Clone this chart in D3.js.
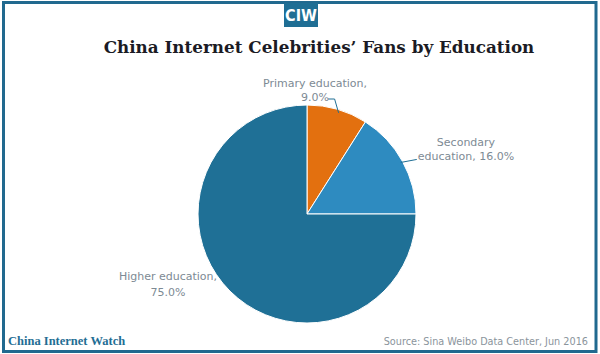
<!DOCTYPE html>
<html>
<head>
<meta charset="utf-8">
<script src="https://cdn.jsdelivr.net/npm/d3@7"></script>
<style>
  html, body { margin: 0; padding: 0; background: #fff; }
  svg { display: block; }
</style>
</head>
<body>
<svg id="chart" width="600" height="354"></svg>
<script>
const categories = ["Primary education", "Secondary education", "Higher education"];
const shares = [9.0, 16.0, 75.0];
const sliceColors = ["#e3700f", "#2e8bc0", "#1f7096"];

const svg = d3.select("#chart"),
  width = 600,
  height = 354,
  cx = 307,
  cy = 214,
  radius = 109;

// frame
svg.append("rect")
  .attr("x", 3.5).attr("y", 2.5)
  .attr("width", width - 7.5).attr("height", height - 5)
  .attr("fill", "none")
  .attr("stroke", "#21698f")
  .attr("stroke-width", 3);

// logo
svg.append("rect")
  .attr("x", 284).attr("y", 3)
  .attr("width", 34).attr("height", 24)
  .attr("fill", "#1f6e94");
svg.append("text")
  .attr("x", 301).attr("y", 21)
  .attr("text-anchor", "middle")
  .style("font-family", "'Liberation Sans Narrow', 'DejaVu Sans Condensed', sans-serif")
  .style("font-weight", "bold")
  .style("font-size", "16px")
  .style("fill", "#fff")
  .text("CIW");

// title
svg.append("text")
  .attr("x", 319).attr("y", 53)
  .attr("text-anchor", "middle")
  .style("font-family", "'DejaVu Serif', Georgia, serif")
  .style("font-weight", "bold")
  .style("font-size", "16.8px")
  .style("fill", "#1b1b24")
  .text("China Internet Celebrities\u2019 Fans by Education");

const data = categories.map((c, i) => ({ name: c, value: shares[i] }));

const color = d3.scaleOrdinal().domain(categories).range(sliceColors);

const pie = d3.pie().sort(null).value((d) => d.value);
const arcs = pie(data);

const arc = d3.arc().innerRadius(0).outerRadius(radius);
const edgeArc = d3.arc().innerRadius(radius - 2).outerRadius(radius - 2);

const g = svg.append("g").attr("transform", `translate(${cx},${cy})`);

g.selectAll("path.slice")
  .data(arcs)
  .enter()
  .append("path")
  .attr("class", "slice")
  .attr("d", arc)
  .attr("fill", (d) => color(d.data.name))
  .attr("stroke", "#fff")
  .attr("stroke-width", 1);

// labels
const labelStyle = (sel) =>
  sel
    .style("font-family", "'DejaVu Sans', sans-serif")
    .style("font-size", "11px")
    .style("fill", "#7d8a94");

const fmt = (v) => v.toFixed(1) + "%";

// primary
const p = arcs[0];
const pA = (p.startAngle + p.endAngle) / 2 + 0.02;
const pEdge = [Math.sin(pA) * (radius - 3), -Math.cos(pA) * (radius - 3)];
g.append("path")
  .attr("d", d3.line()([pEdge, [pEdge[0] - 4, -115], [21, -115]]))
  .attr("fill", "none")
  .attr("stroke", "#1f6e94")
  .attr("stroke-width", 1);
const pt = g.append("text")
  .attr("text-anchor", "middle")
  .call(labelStyle);
pt.append("tspan").attr("x", 8).attr("y", -127).text("Primary education,");
pt.append("tspan").attr("x", 8).attr("y", -113).text(fmt(p.data.value));

// secondary
const s = arcs[1];
const sEdge = edgeArc.centroid(s);
g.append("line")
  .attr("x1", sEdge[0]).attr("y1", sEdge[1])
  .attr("x2", sEdge[0] + 16).attr("y2", sEdge[1] - 3)
  .attr("stroke", "#1f6e94")
  .attr("stroke-width", 1);
const st = g.append("text")
  .attr("text-anchor", "middle")
  .call(labelStyle);
st.append("tspan").attr("x", 159).attr("y", -68).text("Secondary");
st.append("tspan").attr("x", 159).attr("y", -54).text("education, " + fmt(s.data.value));

// higher
const h = arcs[2];
const ht = g.append("text")
  .attr("text-anchor", "middle")
  .call(labelStyle);
ht.append("tspan").attr("x", -139).attr("y", 66).text("Higher education,");
ht.append("tspan").attr("x", -139).attr("y", 82).text(fmt(h.data.value));

// footer
svg.append("text")
  .attr("x", 8).attr("y", 345)
  .style("font-family", "'Liberation Serif', 'DejaVu Serif', serif")
  .style("font-weight", "bold")
  .style("font-size", "12.5px")
  .style("fill", "#1f6e94")
  .text("China Internet Watch");

svg.append("text")
  .attr("x", 588).attr("y", 345)
  .attr("text-anchor", "end")
  .style("font-family", "'DejaVu Sans', sans-serif")
  .style("font-size", "9.7px")
  .style("fill", "#8a949c")
  .text("Source: Sina Weibo Data Center, Jun 2016");
</script>
</body>
</html>
